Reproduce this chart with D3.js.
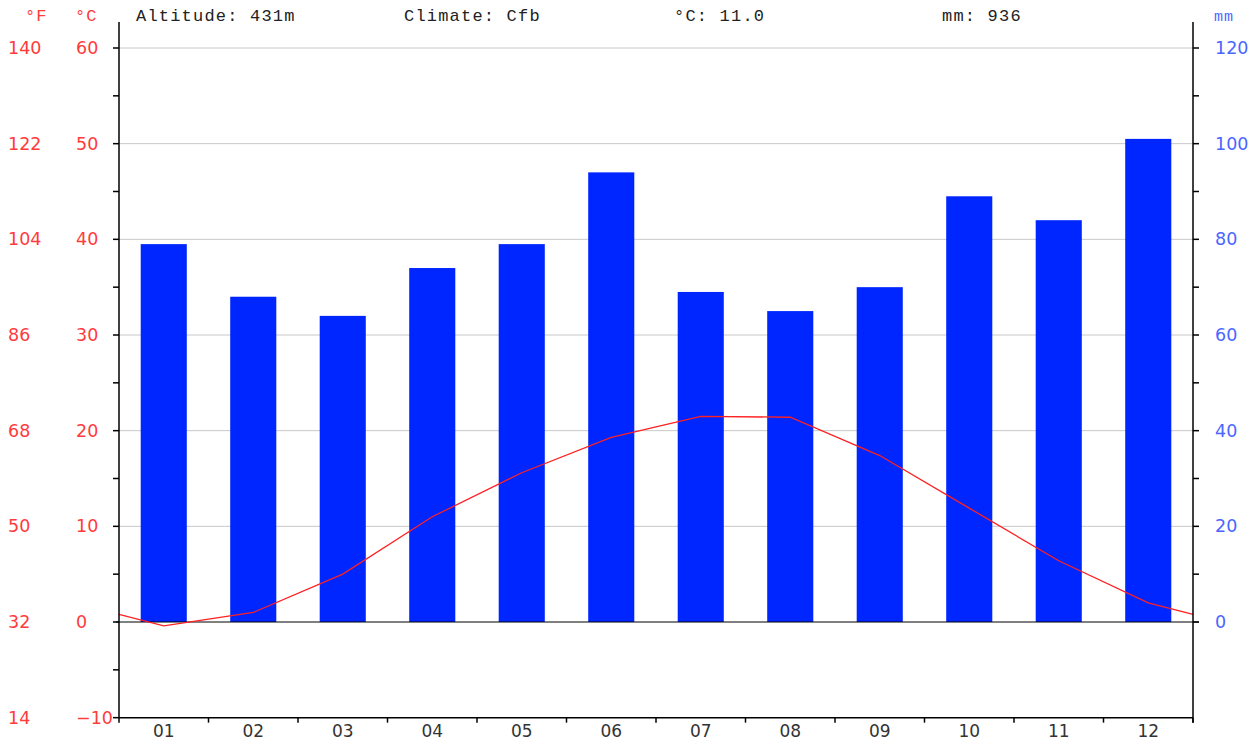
<!DOCTYPE html>
<html>
<head>
<meta charset="utf-8">
<script src="https://cdn.jsdelivr.net/npm/d3@7"></script>
<style>
  body { margin: 0; background: #fff; }
  svg { display: block; }
</style>
</head>
<body>
<div class="Climate-Chart"></div>
<script>
// chart size and plot edges
const WIDTH = 1258;
const HEIGHT = 742;
const LEFT = 119, RIGHT = 1193, TOP = 48, ZERO = 622;

// data
const months = ["01", "02", "03", "04", "05", "06", "07", "08", "09", "10", "11", "12"];
const precipMM = [79, 68, 64, 74, 79, 94, 69, 65, 70, 89, 84, 101];
const tempC = [-0.4, 1.0, 5.0, 11.0, 15.6, 19.3, 21.5, 21.4, 17.4, 11.9, 6.4, 2.0];
const tempTicks = [-10, 0, 10, 20, 30, 40, 50, 60];
const fahrTicks = [14, 32, 50, 68, 86, 104, 122, 140];
const mmTicks = [0, 20, 40, 60, 80, 100, 120];
const header = [
  { text: "Altitude: 431m", x: 136 },
  { text: "Climate: Cfb", x: 404 },
  { text: "°C: 11.0", x: 674 },
  { text: "mm: 936", x: 942 }
];

const RED = "#ff3b3b";
const BLUE = "#4a66ff";

const SVG = d3
  .select(".Climate-Chart")
  .append("svg")
  .attr("width", WIDTH)
  .attr("height", HEIGHT);

// scales: 10 °C on the left matches 20 mm on the right
const Y_T = d3.scaleLinear().domain([0, 60]).range([ZERO, TOP]);
const Y_P = d3.scaleLinear().domain([0, 120]).range([ZERO, TOP]);
const X = d3.scaleBand().domain(months).range([LEFT, RIGHT]).paddingInner(0).paddingOuter(0);
const BOTTOM = Y_T(-10);

// grid lines every 10 °C above zero
SVG.append("g")
  .selectAll("line")
  .data(tempTicks.filter((t) => t > 0))
  .join("line")
  .attr("x1", LEFT)
  .attr("x2", RIGHT)
  .attr("y1", (d) => Y_T(d))
  .attr("y2", (d) => Y_T(d))
  .attr("stroke", "#c8c8c8")
  .attr("stroke-width", 1);

// precipitation bars
const BARW = X.bandwidth() * 0.515;
SVG.append("g")
  .selectAll("rect")
  .data(months)
  .join("rect")
  .attr("x", (d) => X(d) + (X.bandwidth() - BARW) / 2)
  .attr("y", (d, i) => Y_P(precipMM[i]))
  .attr("width", BARW)
  .attr("height", (d, i) => ZERO - Y_P(precipMM[i]))
  .attr("fill", "#0026ff");

// zero line
SVG.append("line")
  .attr("x1", LEFT - 3)
  .attr("x2", RIGHT + 6)
  .attr("y1", ZERO)
  .attr("y2", ZERO)
  .attr("stroke", "#000")
  .attr("stroke-width", 1);

// temperature line, wrapped to the plot edges with the Dec/Jan mean
const edgeT = (tempC[0] + tempC[11]) / 2;
const linePts = [[LEFT, edgeT]]
  .concat(months.map((m, i) => [X(m) + X.bandwidth() / 2, tempC[i]]))
  .concat([[RIGHT, edgeT]]);
SVG.append("path")
  .datum(linePts)
  .attr("fill", "none")
  .attr("stroke", "#ff2020")
  .attr("stroke-width", 1.3)
  .attr("d", d3.line().x((d) => d[0]).y((d) => Y_T(d[1])));

// left axis
const AXL = SVG.append("g").attr("transform", `translate(${LEFT},0)`);
AXL.append("line").attr("y1", 22).attr("y2", BOTTOM).attr("stroke", "#000").attr("stroke-width", 1.5);
AXL.selectAll("line.tick")
  .data(d3.range(-10, 61, 5))
  .join("line")
  .attr("class", "tick")
  .attr("x1", -6)
  .attr("x2", 0)
  .attr("y1", (d) => Y_T(d))
  .attr("y2", (d) => Y_T(d))
  .attr("stroke", "#000")
  .attr("stroke-width", 1.5);

// right axis
const AXR = SVG.append("g").attr("transform", `translate(${RIGHT},0)`);
AXR.append("line").attr("y1", 22).attr("y2", BOTTOM + 5).attr("stroke", "#000").attr("stroke-width", 1.5);
AXR.selectAll("line.tick")
  .data(d3.range(0, 121, 10))
  .join("line")
  .attr("class", "tick")
  .attr("x1", 0)
  .attr("x2", 6)
  .attr("y1", (d) => Y_P(d))
  .attr("y2", (d) => Y_P(d))
  .attr("stroke", "#000")
  .attr("stroke-width", 1.5);

// bottom axis
const AXB = SVG.append("g");
AXB.append("line")
  .attr("x1", LEFT)
  .attr("x2", RIGHT)
  .attr("y1", BOTTOM)
  .attr("y2", BOTTOM)
  .attr("stroke", "#000")
  .attr("stroke-width", 1.5);
AXB.selectAll("line.tick")
  .data(months.map((m) => X(m)).concat([RIGHT]))
  .join("line")
  .attr("class", "tick")
  .attr("x1", (d) => d)
  .attr("x2", (d) => d)
  .attr("y1", BOTTOM)
  .attr("y2", BOTTOM + 5)
  .attr("stroke", "#000")
  .attr("stroke-width", 1.5);

const tickFont = "DejaVu Sans, sans-serif";
AXB.selectAll("text")
  .data(months)
  .join("text")
  .attr("x", (d) => X(d) + X.bandwidth() / 2)
  .attr("y", 737)
  .attr("text-anchor", "middle")
  .attr("font-family", tickFont)
  .attr("font-size", 17)
  .attr("fill", "#333")
  .text((d) => d);

// tick labels
SVG.append("g")
  .selectAll("text")
  .data(fahrTicks)
  .join("text")
  .attr("x", 8)
  .attr("y", (d, i) => Y_T(tempTicks[i]) + 6)
  .attr("font-family", tickFont)
  .attr("font-size", 17.5)
  .attr("fill", RED)
  .text((d) => d);
SVG.append("g")
  .selectAll("text")
  .data(tempTicks)
  .join("text")
  .attr("x", 76)
  .attr("y", (d) => Y_T(d) + 6)
  .attr("font-family", tickFont)
  .attr("font-size", 17.5)
  .attr("fill", RED)
  .text((d) => (d < 0 ? "\u2212" + Math.abs(d) : d));
SVG.append("g")
  .selectAll("text")
  .data(mmTicks)
  .join("text")
  .attr("x", 1215)
  .attr("y", (d) => Y_P(d) + 6)
  .attr("font-family", tickFont)
  .attr("font-size", 17.5)
  .attr("fill", BLUE)
  .text((d) => d);

// unit labels
const unitFont = "Liberation Mono, DejaVu Sans Mono, monospace";
SVG.append("text").attr("x", 25).attr("y", 21).attr("font-family", unitFont).attr("font-size", 17).attr("letter-spacing", 1).attr("fill", RED).text("°F");
SVG.append("text").attr("x", 75).attr("y", 21).attr("font-family", unitFont).attr("font-size", 17).attr("letter-spacing", 1).attr("fill", RED).text("°C");
SVG.append("text").attr("x", 1214).attr("y", 21).attr("font-family", unitFont).attr("font-size", 15).attr("letter-spacing", 1).attr("fill", BLUE).text("mm");

// header line
SVG.append("g")
  .selectAll("text")
  .data(header)
  .join("text")
  .attr("x", (d) => d.x)
  .attr("y", 21)
  .attr("font-family", unitFont)
  .attr("font-size", 17)
  .attr("letter-spacing", 1.2)
  .attr("fill", "#222")
  .text((d) => d.text);
</script>
</body>
</html>
